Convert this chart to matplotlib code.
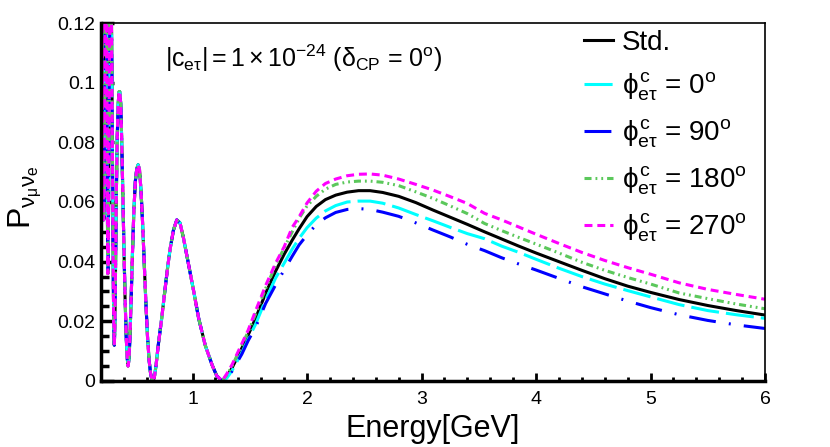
import matplotlib
matplotlib.use("Agg")
import matplotlib.pyplot as plt
import numpy as np
from matplotlib.ticker import MultipleLocator

plt.rcParams['font.family'] = ['Liberation Sans', 'DejaVu Sans']
plt.rcParams['mathtext.fontset'] = 'custom'
plt.rcParams['mathtext.rm'] = 'Liberation Sans'
plt.rcParams['mathtext.it'] = 'Liberation Sans'
plt.rcParams['mathtext.bf'] = 'Liberation Sans:bold'

# low energy part: all five curves lie on top of each other
e_low = [0.200, 0.205, 0.210, 0.215, 0.220, 0.223, 0.227, 0.232, 0.238, 0.244,
         0.249, 0.253, 0.257, 0.260, 0.263, 0.267, 0.272, 0.279, 0.286, 0.293,
         0.300, 0.306, 0.311, 0.316, 0.321, 0.327, 0.334, 0.342, 0.350, 0.358,
         0.364, 0.372, 0.380, 0.390, 0.400, 0.410, 0.420, 0.428, 0.436, 0.444,
         0.452, 0.462, 0.474, 0.487, 0.500, 0.512, 0.524, 0.536, 0.549, 0.562,
         0.576, 0.591, 0.606, 0.620, 0.633, 0.645, 0.655, 0.666, 0.680, 0.700,
         0.730, 0.760, 0.785, 0.805, 0.833, 0.862, 0.890, 0.920, 0.965, 1.010,
         1.053, 1.110, 1.170, 1.210, 1.257]
p_low = [0.150, 0.150, 0.125, 0.085, 0.056, 0.054, 0.062, 0.095, 0.130, 0.140,
         0.120, 0.085, 0.050, 0.036, 0.040, 0.065, 0.100, 0.130, 0.135, 0.115,
         0.075, 0.040, 0.020, 0.012, 0.018, 0.038, 0.063, 0.082, 0.093, 0.097,
         0.097, 0.093, 0.082, 0.064, 0.045, 0.028, 0.015, 0.008, 0.005, 0.007,
         0.014, 0.026, 0.042, 0.057, 0.067, 0.071, 0.0725, 0.071, 0.064, 0.054,
         0.041, 0.027, 0.015, 0.007, 0.0025, 0.0004, 0.0, 0.0012, 0.005, 0.012,
         0.021, 0.031, 0.039, 0.0446, 0.0506, 0.054, 0.053, 0.048, 0.039, 0.030,
         0.021, 0.012, 0.0054, 0.0018, 0.0]

# high energy part, where the curves split
e_high = [1.30, 1.345, 1.43, 1.485, 1.55, 1.638, 1.725, 1.80, 1.87, 1.93,
          2.00, 2.08, 2.16, 2.25, 2.35, 2.45, 2.55, 2.66, 2.80, 2.95,
          3.10, 3.25, 3.40, 3.55, 3.70, 3.85, 4.0, 4.2, 4.4, 4.6,
          4.8, 5.0, 5.25, 5.5, 5.75, 6.0]
p_std = [0.0015, 0.0044, 0.011, 0.0154, 0.021, 0.0294, 0.0368, 0.0425, 0.0472, 0.0510,
         0.0551, 0.0585, 0.0608, 0.0623, 0.0633, 0.0638, 0.0638, 0.0632, 0.0619, 0.0598,
         0.0573, 0.0549, 0.0525, 0.0500, 0.0476, 0.0452, 0.0429, 0.0400, 0.0371, 0.0343,
         0.0318, 0.0297, 0.0273, 0.0253, 0.0236, 0.0221]
p_0 = [0.001, 0.0035, 0.0095, 0.014, 0.019, 0.0272, 0.0345, 0.0395, 0.0442, 0.0478,
       0.0514, 0.0546, 0.0570, 0.0588, 0.0600, 0.0603, 0.0603, 0.0596, 0.0580, 0.0558,
       0.0537, 0.0515, 0.0494, 0.0477, 0.0452, 0.0431, 0.0408, 0.0378, 0.0350, 0.0325,
       0.0303, 0.0282, 0.0256, 0.0236, 0.0222, 0.0210]
p_90 = [0.001, 0.0033, 0.009, 0.0135, 0.018, 0.026, 0.0322, 0.0372, 0.0418, 0.0456,
        0.0490, 0.0524, 0.0547, 0.0565, 0.0575, 0.0578, 0.0575, 0.0566, 0.0552, 0.0530,
        0.0506, 0.0483, 0.0458, 0.0437, 0.0413, 0.0392, 0.0372, 0.0344, 0.0316, 0.0292,
        0.0268, 0.0246, 0.0222, 0.0203, 0.0188, 0.0176]
p_180 = [0.002, 0.005, 0.012, 0.0165, 0.0225, 0.031, 0.0388, 0.0446, 0.0500, 0.0545,
         0.0587, 0.0619, 0.0643, 0.0659, 0.0667, 0.0670, 0.0670, 0.0666, 0.0655, 0.0634,
         0.0612, 0.0587, 0.0561, 0.0528, 0.0504, 0.0481, 0.0459, 0.0429, 0.0398, 0.0371,
         0.0347, 0.0325, 0.0295, 0.0276, 0.0258, 0.0242]
p_270 = [0.0025, 0.0055, 0.0125, 0.017, 0.0235, 0.032, 0.0395, 0.0450, 0.0515, 0.0550,
         0.0597, 0.0636, 0.0662, 0.0677, 0.0688, 0.0693, 0.0694, 0.0690, 0.0677, 0.0659,
         0.0640, 0.0618, 0.0595, 0.0562, 0.0540, 0.0516, 0.0492, 0.0461, 0.0431, 0.0404,
         0.0380, 0.0358, 0.0329, 0.0307, 0.0290, 0.0274]

labels = ['Std.',
          r'$\phi^{c}_{e\tau}$ = 0$^{o}$',
          r'$\phi^{c}_{e\tau}$ = 90$^{o}$',
          r'$\phi^{c}_{e\tau}$ = 180$^{o}$',
          r'$\phi^{c}_{e\tau}$ = 270$^{o}$']

energy = np.array(e_low + e_high)
series = [p_std, p_0, p_90, p_180, p_270]
colors = ['black', '#00FFFF', '#0000FF', '#5BC85B', '#FF00FF']
dashes = [None, (9.2, 2.3), (8.8, 4.3, 0.65, 4.3), (2.3, 1.3, 0.6, 1.3, 0.6, 1.3), (2.6, 1.6)]

fig = plt.figure(figsize=(8.3, 4.47), dpi=100)
ax = fig.add_axes([0.1217, 0.1477, 0.8, 0.8008])

handles = []
for p, c, d, lab in zip(series, colors, dashes, labels):
    y = np.array(p_low + p)
    if d is None:
        ln, = ax.plot(energy, y, color=c, lw=2.2, label=lab)
    else:
        ln, = ax.plot(energy, y, color=c, lw=2.2, dashes=d, label=lab)
    handles.append(ln)

ax.set_xlim(0.2, 6)
ax.set_ylim(0, 0.12)
ax.xaxis.set_major_locator(MultipleLocator(1))
ax.xaxis.set_minor_locator(MultipleLocator(0.2))
ax.yaxis.set_major_locator(MultipleLocator(0.02))
ax.yaxis.set_minor_locator(MultipleLocator(0.005))
ax.set_yticks([0, 0.02, 0.04, 0.06, 0.08, 0.1, 0.12])
ax.set_yticklabels(['0', '0.02', '0.04', '0.06', '0.08', '0.1', '0.12'])
ax.tick_params(axis='both', which='both', direction='in', top=False, right=False, labelsize=14)
ax.tick_params(axis='x', which='major', length=6, width=2, pad=7)
ax.tick_params(axis='x', which='minor', length=3, width=2)
ax.tick_params(axis='y', which='major', length=9, width=2.5, pad=4)
ax.tick_params(axis='y', which='minor', length=6, width=2.5)
ax.spines['bottom'].set_linewidth(2.5)
ax.spines['left'].set_linewidth(2.5)
ax.spines['top'].set_linewidth(1.2)
ax.spines['right'].set_linewidth(1.2)

fig.text(433 / 830, 1 - 437 / 447, 'Energy[GeV]', ha='center', va='baseline', fontsize=22)
fig.text(25 / 830, 1 - 197 / 447, r'$P_{\nu_{\mu}\nu_{e}}$', ha='center', va='center',
         rotation=90, fontsize=23)
fig.text(165 / 830, 1 - 58 / 447,
         r'$|c_{e\tau}| = 1\times10^{-24}$ ($\delta_{CP}$ = 0$^{o}$)',
         ha='left', va='center', fontsize=18)

ax.legend(handles=handles, loc='upper left', bbox_to_anchor=(584 / 830, 1 - 30 / 447),
          bbox_transform=fig.transFigure, frameon=False, fontsize=20,
          handlelength=1.05, handletextpad=0.3, labelspacing=0.52, borderpad=0,
          borderaxespad=0)

fig.savefig('out.png', dpi=100)
